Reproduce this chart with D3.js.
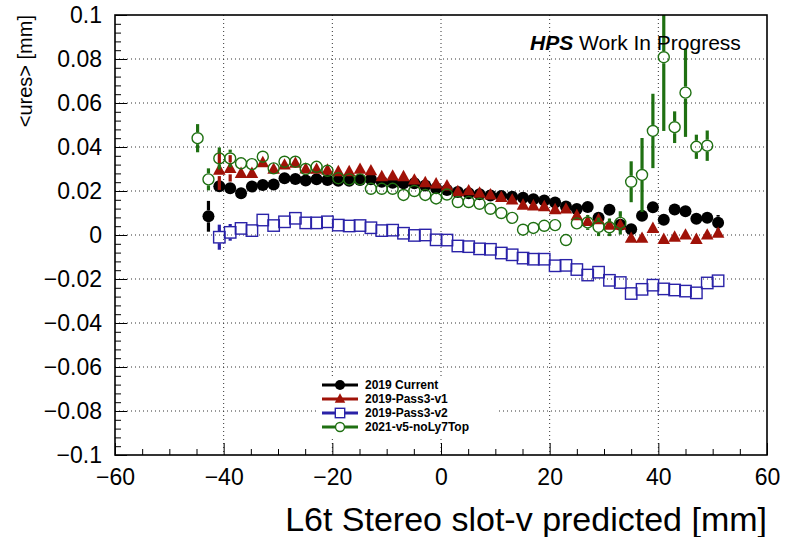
<!DOCTYPE html>
<html>
<head>
<meta charset="utf-8">
<script src="https://cdn.jsdelivr.net/npm/d3@7/dist/d3.min.js"></script>
<style>
  html, body { margin: 0; padding: 0; background: #fff; }
  svg { display: block; font-family: "Liberation Sans", Arial, Helvetica, sans-serif; }
</style>
</head>
<body>
<svg id="chart" width="792" height="537"></svg>
<script>
// Bin centres of the slot-v profile [mm]
const binCenters = [-44.8, -42.8, -40.8, -38.8, -36.8, -34.8, -32.8, -30.8, -28.8, -26.8,
  -24.9, -22.9, -20.9, -18.9, -16.9, -14.9, -12.9, -10.9, -8.9, -6.9,
  -4.9, -2.9, -0.9, 1.1, 3.1, 5.1, 7.1, 9.1, 11.1, 13.1,
  15.1, 17.0, 19.0, 21.0, 23.0, 25.0, 27.0, 29.0, 31.0, 33.0,
  35.0, 37.0, 39.0, 41.0, 43.0, 45.0, 47.0, 49.0, 51.0];

// <ures> per bin [mm], null where the bin is empty
const current2019 = [null, 0.0085, 0.0222, 0.0212, 0.019, 0.022, 0.0227, 0.023, 0.0258, 0.0255,
  0.0248, 0.0253, 0.025, 0.0247, 0.0247, 0.025, 0.0253, 0.0242, 0.0238, 0.0235,
  0.0235, 0.0225, 0.0212, 0.0205, 0.0195, 0.019, 0.0185, 0.018, 0.0177, 0.0174,
  0.0169, 0.0162, 0.0157, 0.0148, 0.013, 0.0118, 0.0127, 0.0078, 0.0115, 0.0047,
  0.0026, 0.0088, 0.0126, 0.0069, 0.0116, 0.0108, 0.0074, 0.0078, 0.0056];
const current2019Err = [null, 0.007, 0.002, 0.002, 0.002, 0.0015, 0.0015, 0.0015, 0.0015, 0.0015,
  0.0015, 0.0015, 0.0015, 0.0015, 0.0015, 0.0015, 0.0015, 0.0015, 0.0015, 0.0015,
  0.0015, 0.0015, 0.0015, 0.0015, 0.0015, 0.0015, 0.0015, 0.0015, 0.0015, 0.0015,
  0.0015, 0.0015, 0.0015, 0.0015, 0.0015, 0.0015, 0.0015, 0.002, 0.002, 0.002,
  0.002, 0.002, 0.002, 0.002, 0.002, 0.002, 0.002, 0.002, 0.0035];

const pass3v1 = [null, null, 0.0295, 0.0303, 0.028, 0.028, 0.0329, 0.0299, 0.0318, 0.0326,
  0.03, 0.0299, 0.0295, 0.0288, 0.0288, 0.0299, 0.0292, 0.0265, 0.0268, 0.0265,
  0.025, 0.0238, 0.0232, 0.0223, 0.0197, 0.0201, 0.019, 0.0182, 0.0171, 0.0159,
  0.0136, 0.0132, 0.0129, 0.0115, 0.0118, 0.0088, 0.0062, 0.007, 0.0045, 0.0045,
  -0.0015, -0.0015, 0.003, -0.002, -0.001, 0.0, -0.002, 0.0, 0.0008];
const pass3v1Err = [null, null, 0.009, 0.006, 0.002, 0.002, 0.0015, 0.0015, 0.0015, 0.0015,
  0.0015, 0.0015, 0.0015, 0.0015, 0.0015, 0.0015, 0.0015, 0.0015, 0.0015, 0.0015,
  0.0015, 0.0015, 0.0015, 0.0015, 0.0015, 0.0015, 0.0015, 0.0015, 0.0015, 0.0015,
  0.0015, 0.0015, 0.0015, 0.0015, 0.0015, 0.0015, 0.0015, 0.0015, 0.0015, 0.0015,
  0.0015, 0.0015, 0.0015, 0.0015, 0.0015, 0.0015, 0.0015, 0.0015, 0.0015];

const pass3v2 = [null, null, -0.001, 0.0012, 0.003, 0.002, 0.0068, 0.0043, 0.006, 0.0076,
  0.0055, 0.0055, 0.006, 0.0045, 0.0041, 0.0043, 0.0033, 0.002, 0.0022, 0.0008,
  -0.0002, 0.0, -0.0022, -0.0023, -0.005, -0.0053, -0.0063, -0.0065, -0.0082, -0.009,
  -0.0105, -0.011, -0.011, -0.014, -0.0138, -0.0157, -0.0182, -0.0169, -0.0206, -0.0216,
  -0.0266, -0.0247, -0.0228, -0.0245, -0.025, -0.0255, -0.0263, -0.0218, -0.0208];
const pass3v2Err = [null, null, 0.0057, 0.0038, 0.0025, 0.0015, 0.0015, 0.0015, 0.0015, 0.0015,
  0.0015, 0.0015, 0.0015, 0.0015, 0.0015, 0.0015, 0.0015, 0.0015, 0.0015, 0.0015,
  0.0015, 0.0015, 0.0015, 0.0015, 0.0015, 0.0015, 0.0015, 0.0015, 0.0015, 0.0015,
  0.0015, 0.0015, 0.0015, 0.0015, 0.0015, 0.0015, 0.0015, 0.0015, 0.0015, 0.0015,
  0.0015, 0.0015, 0.0015, 0.0015, 0.0015, 0.0015, 0.0015, 0.0015, 0.0015];

const v5noLy7Top = [0.044, 0.0253, 0.0348, 0.0348, 0.0326, 0.0322, 0.0356, 0.0303, 0.0333, 0.0333,
  0.03, 0.031, 0.0292, 0.0258, 0.0253, 0.0253, 0.021, 0.021, 0.021, 0.0182,
  0.02, 0.0182, 0.0166, 0.0184, 0.015, 0.015, 0.0142, 0.0119, 0.01, 0.0078,
  0.0024, 0.0032, 0.0042, 0.0045, -0.0023, 0.0053, 0.0057, 0.0037, 0.0035, 0.0055,
  0.0242, 0.0273, 0.0473, 0.0808, 0.049, 0.0647, 0.0401, 0.0406, null];
const v5noLy7TopErr = [0.0064, 0.005, 0.005, 0.004, 0.002, 0.002, 0.0015, 0.0015, 0.0015, 0.0015,
  0.0015, 0.0015, 0.0015, 0.0015, 0.0015, 0.0015, 0.0015, 0.0015, 0.0015, 0.0015,
  0.0015, 0.0015, 0.0015, 0.0015, 0.0015, 0.0015, 0.0015, 0.0015, 0.0015, 0.0015,
  0.0015, 0.0015, 0.0015, 0.0015, 0.0015, 0.002, 0.0034, 0.0042, 0.004, 0.0053,
  0.0093, 0.0168, 0.0169, 0.0335, 0.0072, 0.0201, 0.0055, 0.0069, null];

const seriesNames = ["2019 Current", "2019-Pass3-v1", "2019-Pass3-v2", "2021-v5-noLy7Top"];

const xTickValues = [-60, -40, -20, 0, 20, 40, 60];
const xTickLabels = ["\u221260", "\u221240", "\u221220", "0", "20", "40", "60"];
const yTickValues = [0.1, 0.08, 0.06, 0.04, 0.02, 0, -0.02, -0.04, -0.06, -0.08, -0.1];
const yTickLabels = ["0.1", "0.08", "0.06", "0.04", "0.02", "0", "\u22120.02", "\u22120.04",
  "\u22120.06", "\u22120.08", "\u22120.1"];

// ---------------------------------------------------------------
const frame = { left: 115, right: 767, top: 15, bottom: 455 };
const svg = d3.select("#chart");

const x = d3.scaleLinear().domain([-60, 60]).range([frame.left, frame.right]);
const y = d3.scaleLinear().domain([-0.1, 0.1]).range([frame.bottom, frame.top]);

svg.append("rect").attr("width", 792).attr("height", 537).attr("fill", "#fff");

// dotted grid at the major divisions
const grid = svg.append("g").attr("stroke", "#333").attr("stroke-width", 1)
  .attr("stroke-dasharray", "1,3");
xTickValues.slice(1, -1).forEach(v => {
  grid.append("line").attr("x1", x(v)).attr("x2", x(v))
    .attr("y1", frame.top).attr("y2", frame.bottom);
});
yTickValues.slice(1, -1).forEach(v => {
  grid.append("line").attr("x1", frame.left).attr("x2", frame.right)
    .attr("y1", y(v)).attr("y2", y(v));
});

// axes: ticks point into the frame
const xMinor = d3.range(-55, 60, 5).filter(v => v % 20 !== 0);
const yMinor = d3.range(-0.096, 0.1, 0.004).map(v => +v.toFixed(3))
  .filter(v => Math.abs(Math.round(v * 1000) % 20) !== 0);

const gx = svg.append("g").attr("transform", `translate(0,${frame.bottom})`);
gx.call(d3.axisBottom(x).tickValues(xTickValues)
  .tickFormat((d, i) => xTickLabels[i]).tickSizeInner(-12).tickSizeOuter(0).tickPadding(14));
gx.append("g").call(d3.axisBottom(x).tickValues(xMinor).tickFormat("")
  .tickSizeInner(-6).tickSizeOuter(0));

const gy = svg.append("g").attr("transform", `translate(${frame.left},0)`);
gy.call(d3.axisLeft(y).tickValues(yTickValues)
  .tickFormat((d, i) => yTickLabels[i]).tickSizeInner(-12).tickSizeOuter(0).tickPadding(13));
gy.append("g").call(d3.axisLeft(y).tickValues(yMinor).tickFormat("")
  .tickSizeInner(-6).tickSizeOuter(0));

svg.selectAll(".domain").remove();
svg.selectAll(".tick line").attr("stroke", "#000").attr("stroke-width", 1);
svg.selectAll(".tick text").attr("font-size", 23).attr("fill", "#000")
  .attr("font-family", "'Liberation Sans', Arial, Helvetica, sans-serif");

// data layer
svg.append("clipPath").attr("id", "plotClip").append("rect")
  .attr("x", frame.left).attr("y", frame.top)
  .attr("width", frame.right - frame.left).attr("height", frame.bottom - frame.top);
const plot = svg.append("g").attr("clip-path", "url(#plotClip)");

const R = 6;
const series = [
  { name: seriesNames[0], vals: current2019, errs: current2019Err, color: "#000000", shape: "circle", filled: true },
  { name: seriesNames[1], vals: pass3v1, errs: pass3v1Err, color: "#a01208", shape: "triangle", filled: true },
  { name: seriesNames[2], vals: pass3v2, errs: pass3v2Err, color: "#2a22a8", shape: "square", filled: false },
  { name: seriesNames[3], vals: v5noLy7Top, errs: v5noLy7TopErr, color: "#1f7012", shape: "circle", filled: false }
];

function drawMarker(g, s, cx, cy, r) {
  if (s.shape === "circle") {
    g.append("circle").attr("cx", cx).attr("cy", cy).attr("r", s.filled ? r : r - 0.5)
      .attr("fill", s.filled ? s.color : "none")
      .attr("stroke", s.color).attr("stroke-width", s.filled ? 0 : 1.4);
  } else if (s.shape === "triangle") {
    const h = r * 1.9;
    const pts = [[cx, cy - h * 0.6], [cx - r * 1.05, cy + h * 0.4], [cx + r * 1.05, cy + h * 0.4]];
    g.append("path").attr("d", d3.line()(pts) + "Z").attr("fill", s.color);
  } else {
    g.append("rect").attr("x", cx - r + 0.3).attr("y", cy - r + 0.3)
      .attr("width", 2 * r - 0.6).attr("height", 2 * r - 0.6)
      .attr("fill", "none").attr("stroke", s.color).attr("stroke-width", 1.4);
  }
}

series.forEach(s => {
  const g = plot.append("g");
  binCenters.forEach((xc, i) => {
    const v = s.vals[i];
    if (v === null || v === undefined) return;
    const cx = x(xc), cy = y(v);
    const e = s.errs[i] || 0;
    const yHi = y(v + e), yLo = y(v - e);
    // error bar, interrupted where the marker sits
    if (cy - yHi > R) {
      g.append("line").attr("x1", cx).attr("x2", cx).attr("y1", yHi).attr("y2", cy - R)
        .attr("stroke", s.color).attr("stroke-width", 3.2);
    }
    if (yLo - cy > R) {
      g.append("line").attr("x1", cx).attr("x2", cx).attr("y1", cy + R).attr("y2", yLo)
        .attr("stroke", s.color).attr("stroke-width", 3.2);
    }
    drawMarker(g, s, cx, cy, R);
  });
});

// frame
svg.append("rect").attr("x", frame.left).attr("y", frame.top)
  .attr("width", frame.right - frame.left).attr("height", frame.bottom - frame.top)
  .attr("fill", "none").attr("stroke", "#000").attr("stroke-width", 1.6);

// legend
const leg = svg.append("g");
leg.append("rect").attr("x", 318).attr("y", 376).attr("width", 180).attr("height", 60).attr("fill", "#fff");
series.forEach((s, i) => {
  const ly = 385 + i * 14;
  leg.append("line").attr("x1", 322).attr("x2", 358).attr("y1", ly).attr("y2", ly)
    .attr("stroke", s.color).attr("stroke-width", 3);
  if (!s.filled) {
    leg.append("rect").attr("x", 340 - 5).attr("y", ly - 5).attr("width", 10).attr("height", 10)
      .attr("fill", "#fff").attr("rx", s.shape === "circle" ? 5 : 0);
  }
  drawMarker(leg, s, 340, ly, 5);
  leg.append("text").attr("x", 365).attr("y", ly + 4.3).attr("font-size", 12)
    .attr("font-weight", "bold").attr("fill", "#000").text(s.name);
});

// labels
const tag = svg.append("text").attr("x", 530).attr("y", 50).attr("font-size", 21).attr("fill", "#000");
tag.append("tspan").attr("font-weight", "bold").attr("font-style", "italic").text("HPS");
tag.append("tspan").text(" Work In Progress");

svg.append("text").attr("transform", `translate(32,${frame.top}) rotate(-90)`)
  .attr("text-anchor", "end").attr("font-size", 20).attr("fill", "#000").text("<ures> [mm]");

svg.append("text").attr("x", frame.right).attr("y", 531).attr("text-anchor", "end")
  .attr("font-size", 34).attr("fill", "#000").text("L6t Stereo slot-v predicted [mm]");
</script>
</body>
</html>
